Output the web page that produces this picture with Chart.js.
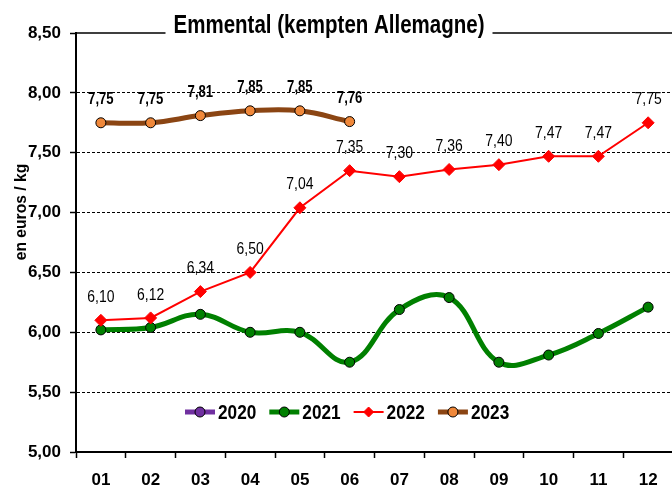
<!DOCTYPE html>
<html>
<head>
<meta charset="utf-8">
<script src="https://cdn.jsdelivr.net/npm/chart.js@4"></script>
<style>
  html, body { margin: 0; padding: 0; background: #fff; overflow: hidden; }
  #wrap { width: 672px; height: 488px; overflow: hidden; }
</style>
</head>
<body>
<div id="wrap"><canvas id="emmentalChart" width="680" height="488"></canvas></div>
<script>
// prix Emmental (kempten Allemagne), euros / kg
var months = ['01', '02', '03', '04', '05', '06', '07', '08', '09', '10', '11', '12'];
var prices2020 = [];
var prices2021 = [6.02, 6.04, 6.15, 6.00, 6.00, 5.75, 6.19, 6.29, 5.75, 5.81, 5.99, 6.21];
var prices2022 = [6.10, 6.12, 6.34, 6.50, 7.04, 7.35, 7.30, 7.36, 7.40, 7.47, 7.47, 7.75];
var prices2023 = [7.75, 7.75, 7.81, 7.85, 7.85, 7.76];

var FONT = "'Liberation Sans', Arial, sans-serif";
var SQUEEZE = 0.82; // no narrow face installed, squeeze by hand

function fmt(v) {
    return v.toFixed(2).replace('.', ',');
}

function narrowText(ctx, text, x, y, font, align, squeeze) {
    ctx.save();
    ctx.translate(x, y);
    ctx.scale(squeeze || SQUEEZE, 1);
    ctx.font = font;
    ctx.textAlign = align || 'center';
    ctx.fillText(text, 0, 0);
    ctx.restore();
}

// title, top frame, y title, legend and value labels
var decorations = {
    id: 'decorations',
    afterDatasetsDraw: function (chart) {
        var ctx = chart.ctx;
        ctx.save();
        ctx.fillStyle = '#000';
        ctx.textBaseline = 'middle';
        chart.data.datasets.forEach(function (ds, i) {
            if (!ds.valueFont) return;
            var meta = chart.getDatasetMeta(i);
            meta.data.forEach(function (pt, j) {
                narrowText(ctx, fmt(ds.data[j]), pt.x, pt.y - 23, ds.valueFont);
            });
        });
        ctx.restore();
    },
    afterDraw: function (chart) {
        var ctx = chart.ctx, area = chart.chartArea;
        ctx.save();

        // title sitting on the top frame line
        var title = 'Emmental (kempten Allemagne)';
        var titleFont = 'bold 25px ' + FONT;
        var tx = 329;
        ctx.font = titleFont;
        var tw = ctx.measureText(title).width * SQUEEZE;
        ctx.strokeStyle = '#000';
        ctx.lineWidth = 1.5;
        ctx.beginPath();
        ctx.moveTo(area.left, area.top);
        ctx.lineTo(tx - tw / 2 - 8, area.top);
        ctx.moveTo(tx + tw / 2 + 8, area.top);
        ctx.lineTo(area.right, area.top);
        ctx.stroke();
        ctx.fillStyle = '#000';
        ctx.textBaseline = 'alphabetic';
        narrowText(ctx, title, tx, area.top, titleFont);

        // y axis title
        ctx.save();
        ctx.translate(21, 212);
        ctx.rotate(-Math.PI / 2);
        ctx.textBaseline = 'middle';
        narrowText(ctx, 'en euros / kg', 0, 0, 'bold 17px ' + FONT, 'center', 0.92);
        ctx.restore();

        // legend inside the plot
        var x = 185, y = 412;
        var legendFont = 'bold 21px ' + FONT;
        ctx.textBaseline = 'middle';
        chart.data.datasets.forEach(function (ds) {
            ctx.strokeStyle = ds.borderColor;
            ctx.lineWidth = ds.borderWidth;
            ctx.beginPath();
            ctx.moveTo(x, y);
            ctx.lineTo(x + 30, y);
            ctx.stroke();
            ctx.fillStyle = ds.pointBackgroundColor;
            ctx.strokeStyle = ds.pointBorderColor;
            ctx.lineWidth = ds.pointBorderWidth;
            ctx.beginPath();
            if (ds.pointStyle === 'rectRot') {
                ctx.moveTo(x + 10, y);
                ctx.lineTo(x + 15, y - 5);
                ctx.lineTo(x + 20, y);
                ctx.lineTo(x + 15, y + 5);
                ctx.closePath();
            } else {
                ctx.arc(x + 15, y, 5, 0, Math.PI * 2);
            }
            ctx.fill();
            ctx.stroke();
            ctx.fillStyle = '#000';
            narrowText(ctx, ds.label, x + 33, y + 1, legendFont, 'left');
            ctx.font = legendFont;
            x += 33 + ctx.measureText(ds.label).width * SQUEEZE + 13;
        });
        ctx.restore();
    }
};

var ctx = document.getElementById('emmentalChart').getContext('2d');
var emmentalChart = new Chart(ctx, {
    type: 'line',
    data: {
        labels: months,
        datasets: [{
            label: '2020',
            data: prices2020,
            borderColor: '#7030a0',
            borderWidth: 5,
            pointStyle: 'circle',
            pointBackgroundColor: '#7030a0',
            pointBorderColor: '#000',
            pointBorderWidth: 1,
            order: 4
        }, {
            label: '2021',
            data: prices2021,
            borderColor: '#008000',
            borderWidth: 5,
            tension: 0.4,
            pointStyle: 'circle',
            pointRadius: 5,
            pointBackgroundColor: '#008000',
            pointBorderColor: '#000',
            pointBorderWidth: 1,
            order: 3
        }, {
            label: '2022',
            data: prices2022,
            borderColor: '#ff0000',
            borderWidth: 2,
            pointStyle: 'rectRot',
            pointRadius: 6,
            pointBackgroundColor: '#ff0000',
            pointBorderColor: '#ff0000',
            pointBorderWidth: 1,
            valueFont: '17px ' + FONT,
            order: 2
        }, {
            label: '2023',
            data: prices2023,
            borderColor: '#8b4513',
            borderWidth: 5,
            tension: 0.4,
            pointStyle: 'circle',
            pointRadius: 5,
            pointBackgroundColor: '#f0883a',
            pointBorderColor: '#000',
            pointBorderWidth: 1,
            valueFont: 'bold 16px ' + FONT,
            order: 1
        }]
    },
    options: {
        responsive: false,
        animation: false,
        devicePixelRatio: 1,
        layout: { padding: { top: 33, left: 0, right: 2, bottom: 0 } },
        plugins: {
            legend: { display: false },
            tooltip: { enabled: false }
        },
        scales: {
            x: {
                offset: true,
                afterFit: function (scale) { scale.height = 36; },
                grid: {
                    offset: true,
                    drawOnChartArea: false,
                    drawTicks: true,
                    tickLength: 6,
                    tickColor: '#000',
                    tickWidth: 1.5
                },
                border: { display: true, color: '#000', width: 2 },
                ticks: {
                    color: '#000',
                    padding: 12,
                    autoSkip: false,
                    maxRotation: 0,
                    font: { family: FONT, size: 17, weight: 'bold' }
                }
            },
            y: {
                min: 5,
                max: 8.5,
                afterFit: function (scale) { scale.width = 76; },
                grid: {
                    color: function (c) {
                        return (c.tick && (c.tick.value === 8.5 || c.tick.value === 5)) ? 'rgba(0,0,0,0)' : '#000';
                    },
                    lineWidth: 1,
                    drawTicks: true,
                    tickLength: 6,
                    tickColor: '#000',
                    tickWidth: 1.5
                },
                border: { display: true, color: '#000', width: 2, dash: [3, 2] },
                ticks: {
                    stepSize: 0.5,
                    color: '#000',
                    padding: 9,
                    font: { family: FONT, size: 17, weight: 'bold' },
                    callback: function (v) { return fmt(v); }
                }
            }
        }
    },
    plugins: [decorations]
});
</script>
</body>
</html>
